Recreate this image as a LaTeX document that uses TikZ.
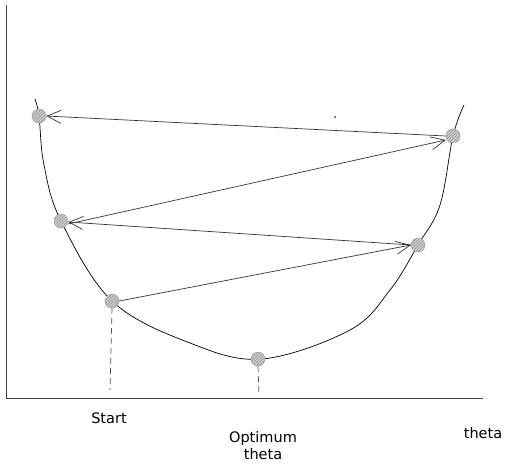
\documentclass[tikz,border=0pt]{standalone}
\usepackage{fontspec}
\setmainfont{DejaVu Sans}
\usetikzlibrary{arrows.meta}
\usetikzlibrary{patterns}
\begin{document}
\begin{tikzpicture}[x=1pt,y=-1pt,
  axe/.style={draw=black!75,line width=1pt},
  courbe/.style={draw=black,line width=0.7pt},
  saut/.style={draw=black!80,line width=0.7pt,-{Straight Barb[length=14pt,width=13pt]}},
  pointille/.style={draw=black!70,line width=0.7pt,dash pattern=on 6pt off 4pt},
  etape/.style={circle,minimum size=14pt,inner sep=0pt,draw=gray!80,fill=gray!35,
    postaction={pattern=north east lines,pattern color=gray!90}},
  texte/.style={font=\fontsize{14.5}{17}\selectfont,align=center,inner sep=0pt}]
\useasboundingbox (0,0) rectangle (512,472);
% axes
\coordinate (O) at (6,398);
\draw[axe] (6,5) -- (O) -- (483,398);
% la courbe
\draw[courbe] plot[smooth,tension=0.6] coordinates
  {(35,99) (39,116) (44,165) (61,221) (112,301)
   (190,343) (262,359) (350,330) (390,290) (418,245)
   (440,205) (453,136) (464,105)};
% points
\node[etape] (p1) at (39,116) {};
\node[etape] (p2) at (61,221) {};
\node[etape] (p3) at (112,301) {};
\node[etape] (p4) at (258,359) {};
\node[etape] (p5) at (418,245) {};
\node[etape] (p6) at (453,136) {};
\fill (335,117) circle (0.9);
% sauts
\draw[saut] (p6.west) -- (p1.east);
\draw[saut] ([yshift=-3pt]p2.east) -- ([yshift=-4pt]p6.west);
\draw[saut] (p5.west) -- ([yshift=-1pt]p2.east);
\draw[saut] (p3.east) -- (p5.west);
% pointilles
\draw[pointille] (p3.south) -- (110,390);
\draw[pointille] (p4.south) -- (259,396);
% textes
\node[texte] (start) at (109,418) {Start};
\node[texte] (opt) at (263,446) {Optimum\\theta};
\node[texte] (theta) at (483,433) {theta};
\end{tikzpicture}
\end{document}
